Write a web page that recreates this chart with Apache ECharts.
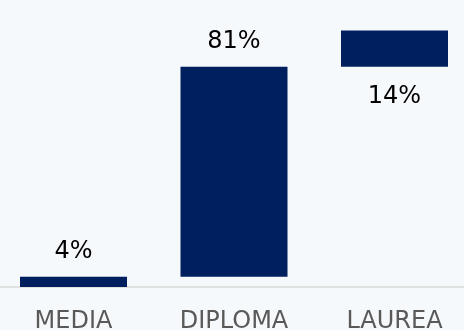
<!DOCTYPE html>
<html>
<head>
<meta charset="utf-8">
<script src="https://cdn.jsdelivr.net/npm/echarts@6/dist/echarts.min.js"></script>
<style>
html,body{margin:0;padding:0;background:#f6f9fb;}
#c{width:464px;height:330px;}
</style>
</head>
<body>
<div id="c"></div>
<script>
var categories = ['MEDIA', 'DIPLOMA', 'LAUREA'];
var values = [4, 81, 14];
var bases = [0, 4, 85];
var labelPositions = ['top', 'top', 'bottom'];

var chart = echarts.init(document.getElementById('c'), null, {renderer: 'canvas'});
chart.setOption({
  backgroundColor: '#f6f9fb',
  animation: false,
  grid: {left: -6.75, width: 481.5, top: 28, height: 259, outerBoundsMode: 'none', containLabel: false},
  xAxis: {
    type: 'category',
    data: categories,
    axisLine: {show: true, lineStyle: {color: '#d9d9d9', width: 1.5}},
    axisTick: {show: false},
    axisLabel: {color: '#595959', fontSize: 24, fontFamily: 'DejaVu Sans', margin: 23}
  },
  yAxis: {type: 'value', min: 0, max: 100, show: false, splitLine: {show: false}},
  series: [
    {
      type: 'bar', stack: 'w', barWidth: 107,
      itemStyle: {color: 'transparent'},
      data: bases, silent: true
    },
    {
      type: 'bar', stack: 'w', barWidth: 107,
      itemStyle: {color: '#001f5f'},
      data: values.map(function (v, i) {
        return {
          value: v,
          label: {
            show: true,
            position: labelPositions[i],
            distance: labelPositions[i] === 'bottom' ? 18 : 13,
            formatter: v + '%',
            color: '#000',
            fontSize: 24,
            fontFamily: 'DejaVu Sans'
          }
        };
      })
    }
  ]
});
</script>
</body>
</html>
